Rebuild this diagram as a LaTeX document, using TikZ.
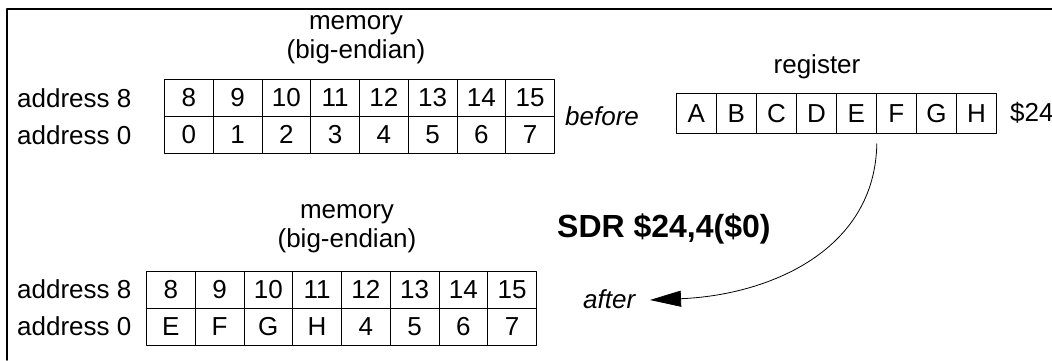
\documentclass[tikz,border=0pt]{standalone}
\usepackage{fontspec}
\setmainfont{Liberation Sans}
\usetikzlibrary{arrows.meta}
\begin{document}
\begin{tikzpicture}[x=1pt, y=-1pt, font=\fontsize{26}{29}\selectfont, line join=round, line cap=round]
	\tikzset{
		cell/.style={draw, line width=0.8pt, minimum width=48.75pt, minimum height=37pt, inner sep=0pt, anchor=north west},
		regcell/.style={cell, minimum width=40pt, minimum height=40pt},
		title/.style={align=center, inner sep=0pt},
		lbl/.style={inner sep=0pt, anchor=west},
	}
	\useasboundingbox (0,0) rectangle (1052,360);
	\draw[line width=1.6pt] (7,360) -- (7,9) -- (1052,9);
	% memory before
	\node[title] (memA) at (356,40) {memory\\(big-endian)};
	\node[lbl] (adrA8) at (17,98) {address 8};
	\node[lbl] (adrA0) at (17,135) {address 0};
	\foreach \v [count=\i from 0] in {8,9,10,11,12,13,14,15}
		\node[cell] (memA8-\i) at ({164+48.75*\i},79) {\v};
	\foreach \v [count=\i from 0] in {0,1,2,3,4,5,6,7}
		\node[cell] (memA0-\i) at ({164+48.75*\i},116) {\v};
	\node[lbl, anchor=base west] (before) at (565,125) {\itshape before};
	% register
	\node[title] (regtitle) at (817,67) {register};
	\foreach \v [count=\i from 0] in {A,B,C,D,E,F,G,H}
		\node[regcell] (reg-\i) at ({676+40*\i},93) {\v};
	\node[lbl] (regname) at (1010,113) {\$24};
	% instruction
	\node[lbl, anchor=base west] (instr) at (557,237) {\fontsize{32}{36}\selectfont\bfseries SDR \$24,4(\$0)};
	% memory after
	\node[title] (memB) at (347,229) {memory\\(big-endian)};
	\node[lbl] (adrB8) at (17,289.5) {address 8};
	\node[lbl] (adrB0) at (17,326) {address 0};
	\foreach \v [count=\i from 0] in {8,9,10,11,12,13,14,15}
		\node[cell] (memB8-\i) at ({146+48.75*\i},271) {\v};
	\foreach \v [count=\i from 0] in {E,F,G,H,4,5,6,7}
		\node[cell] (memB0-\i) at ({146+48.75*\i},308) {\v};
	\node[lbl, anchor=base west] (after) at (583,308) {\itshape after};
	\coordinate (tip) at (650,300);
	\draw[line width=0.8pt, -{Triangle[length=31pt,width=16pt]}] ([yshift=-10pt]reg-4.south east) .. controls (875,250) and (770,295) .. (tip);
\end{tikzpicture}
\end{document}
